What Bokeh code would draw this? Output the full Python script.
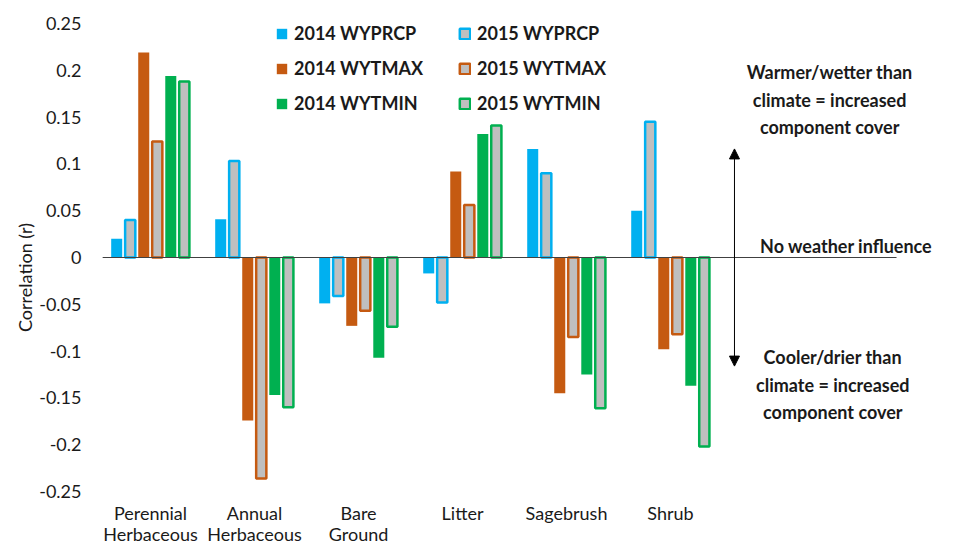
from bokeh.plotting import figure
from bokeh.models import (ColumnDataSource, FixedTicker, CustomJSTickFormatter,
                          Label, Arrow, NormalHead, Legend, LegendItem)
from bokeh.core.properties import value
from bokeh.embed import file_html
from bokeh.resources import INLINE

categories = ["Perennial\nHerbaceous", "Annual\nHerbaceous", "Bare\nGround", "Litter", "Sagebrush", "Shrub"]
series_names = ["2014 WYPRCP", "2015 WYPRCP", "2014 WYTMAX", "2015 WYTMAX", "2014 WYTMIN", "2015 WYTMIN"]

prcp_2014 = [0.020, 0.041, -0.049, -0.017, 0.116, 0.050]
prcp_2015 = [0.040, 0.103, -0.041, -0.048, 0.090, 0.145]
tmax_2014 = [0.219, -0.174, -0.073, 0.092, -0.145, -0.098]
tmax_2015 = [0.124, -0.236, -0.057, 0.056, -0.085, -0.082]
tmin_2014 = [0.194, -0.147, -0.107, 0.132, -0.125, -0.137]
tmin_2015 = [0.188, -0.160, -0.074, 0.141, -0.161, -0.202]

y_ticks = [-0.25, -0.2, -0.15, -0.1, -0.05, 0, 0.05, 0.1, 0.15, 0.2, 0.25]

series_values = [prcp_2014, prcp_2015, tmax_2014, tmax_2015, tmin_2014, tmin_2015]
series_colors = ["#00B0F0", "#00B0F0", "#C55A11", "#C55A11", "#00B050", "#00B050"]
outlined = [False, True, False, True, False, True]

FONT = "Lato"
TXT = "#1a1a1a"

p = figure(width=937, height=550, output_backend="svg", toolbar_location=None,
           x_range=(-0.5, 7.567), y_range=(-0.313, 0.2703),
           min_border_left=98, min_border_right=0, min_border_top=4, min_border_bottom=0)
p.outline_line_color = None
p.xgrid.visible = False
p.ygrid.visible = False
p.xaxis.visible = False

step = 0.13
renderers = []
for i, (name, vals, col, outl) in enumerate(zip(series_names, series_values, series_colors, outlined)):
    xs = [k + (i - 2.5) * step for k in range(len(categories))]
    src = ColumnDataSource(dict(x=xs, top=vals))
    if outl:
        r = p.vbar(x="x", top="top", bottom=0, width=0.098, source=src,
                   fill_color="#BFBFBF", line_color=col, line_width=2.5)
    else:
        r = p.vbar(x="x", top="top", bottom=0, width=0.106, source=src,
                   fill_color=col, line_color=None)
    renderers.append(r)

# zero line ("No weather influence")
p.segment(x0=-0.46, y0=0, x1=7.173, y1=0, line_color="#404040", line_width=1.2)

# y axis
p.yaxis.ticker = FixedTicker(ticks=y_ticks)
p.yaxis.formatter = CustomJSTickFormatter(code="return tick.toString();")
p.yaxis.axis_line_color = None
p.yaxis.major_tick_line_color = None
p.yaxis.minor_tick_line_color = None
p.yaxis.major_label_standoff = 11
p.yaxis.major_label_text_font = FONT
p.yaxis.major_label_text_font_size = "18px"
p.yaxis.major_label_text_color = TXT
p.yaxis.axis_label = "Correlation (r)"
p.yaxis.axis_label_text_font = FONT
p.yaxis.axis_label_text_font_size = "18px"
p.yaxis.axis_label_text_font_style = "normal"
p.yaxis.axis_label_text_color = TXT
p.yaxis.axis_label_standoff = 0

# category labels (two lines)
line1 = [c.split("\n")[0] for c in categories]
line2 = [c.split("\n")[1] if "\n" in c else "" for c in categories]
cat_x = list(range(len(categories)))
lab_src = ColumnDataSource(dict(x=cat_x, l1=line1, l2=line2))
for col_name, yv in (("l1", -0.2725), ("l2", -0.2955)):
    p.text(x="x", y=yv, text=col_name, source=lab_src, text_align="center", text_baseline="middle",
           text_font=value(FONT), text_font_size="18px", text_color=TXT)

# legends (two columns)
def make_legend(items, loc):
    return Legend(items=items, location=loc, orientation="vertical",
                  glyph_width=13, glyph_height=13, label_standoff=6, spacing=13,
                  padding=0, margin=0, border_line_color=None, background_fill_alpha=0,
                  label_text_font=FONT, label_text_font_size="18px",
                  label_text_font_style="bold", label_text_color=TXT)

items1 = [LegendItem(label=series_names[i], renderers=[renderers[i]]) for i in (0, 2, 4)]
items2 = [LegendItem(label=series_names[i], renderers=[renderers[i]]) for i in (1, 3, 5)]
p.add_layout(make_legend(items1, (177, 436)))
p.add_layout(make_legend(items2, (360, 436)))

# annotations
arrow_x = 5.615
p.add_layout(Arrow(start=NormalHead(size=10, fill_color="black", line_color="black"),
                   end=NormalHead(size=10, fill_color="black", line_color="black"),
                   x_start=arrow_x, y_start=-0.116, x_end=arrow_x, y_end=0.116,
                   line_color="black", line_width=1))

def add_text(txt, x, y):
    p.add_layout(Label(x=x, y=y, text=txt, text_align="center", text_baseline="middle",
                       text_font=FONT, text_font_size="18px", text_font_style="bold",
                       text_color=TXT))

for txt, y in [("Warmer/wetter than", 0.198), ("climate = increased", 0.168), ("component cover", 0.139)]:
    add_text(txt, 6.53, y)
add_text("No weather influence", 6.69, 0.012)
for txt, y in [("Cooler/drier than", -0.106), ("climate = increased", -0.136), ("component cover", -0.165)]:
    add_text(txt, 6.56, y)

open("out.html", "w").write(file_html(p, INLINE))
